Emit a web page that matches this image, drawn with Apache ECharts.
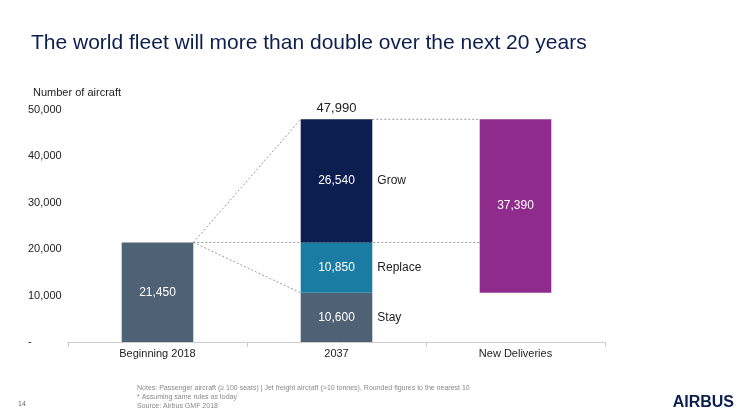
<!DOCTYPE html>
<html>
<head>
<meta charset="utf-8">
<script src="https://cdn.jsdelivr.net/npm/echarts@6/dist/echarts.min.js"></script>
<style>
  html, body { margin: 0; padding: 0; background: #fff; }
  #chart { width: 750px; height: 420px; }
</style>
</head>
<body>
<div id="chart"></div>
<script>
// chart values
const categories = ['Beginning 2018', '2037', 'New Deliveries'];
const fleet2018 = [21450, '-', '-'];
const stay = ['-', 10600, '-'];
const replace = ['-', 10850, '-'];
const grow = ['-', 26540, '-'];
const deliveriesBase = ['-', '-', 10600];
const deliveries = ['-', '-', 37390];
const total2037 = 47990;
const yTicks = [0, 10000, 20000, 30000, 40000, 50000];

const font = 'Liberation Sans, Arial, sans-serif';
const fmt = v => v.toLocaleString('en-US');

var myChart = echarts.init(document.getElementById('chart'));

function barSeries(name, data, color, showLabel) {
  return {
    name: name,
    type: 'bar',
    stack: 'a',
    data: data,
    barWidth: '40%',
    z: 3,
    itemStyle: { color: color },
    label: {
      show: showLabel,
      position: 'inside',
      color: '#fff',
      fontSize: 12,
      fontFamily: font,
      formatter: p => fmt(p.value)
    }
  };
}

// dotted connector lines between the bars
function connectors(params, api) {
  const half = api.size([1, 0])[0] * 0.2;
  const b1 = api.coord([0, fleet2018[0]]);
  const s = stay[1], r = replace[1];
  const x1 = b1[0] + half;
  const x2 = api.coord([1, 0])[0] - half;
  const x2r = api.coord([1, 0])[0] + half;
  const x3 = api.coord([2, 0])[0] - half;
  const yTop = api.coord([1, total2037])[1];
  const yMid = api.coord([1, s + r])[1];
  const yLow = api.coord([1, s])[1];
  const style = { stroke: '#999', lineWidth: 1, lineDash: [2, 2] };
  const seg = (ax, ay, bx, by) => ({ type: 'line', shape: { x1: ax, y1: ay, x2: bx, y2: by }, style: style });
  return {
    type: 'group',
    children: [
      seg(x1, b1[1], x2, yTop),
      seg(x1, b1[1], x3, yMid),
      seg(x1, b1[1], x2, yLow),
      seg(x2r, yTop, x3, yTop)
    ]
  };
}

// side labels and total for the 2037 bar
function sideLabels(params, api) {
  const half = api.size([1, 0])[0] * 0.2;
  const cx = api.coord([1, 0])[0];
  const s = stay[1], r = replace[1], g = grow[1];
  const txt = (x, v, text, align, size) => ({
    type: 'text',
    x: x, y: api.coord([1, v])[1],
    style: { text: text, fill: '#222', fontSize: size, fontFamily: font, align: align, verticalAlign: 'middle' }
  });
  return {
    type: 'group',
    children: [
      txt(cx + half + 5, s / 2, 'Stay', 'left', 12),
      txt(cx + half + 5, s + r / 2, 'Replace', 'left', 12),
      txt(cx + half + 5, s + r + g / 2, 'Grow', 'left', 12),
      { type: 'text', x: cx, y: api.coord([1, total2037])[1] - 4,
        style: { text: fmt(total2037), fill: '#222', fontSize: 13, fontFamily: font, align: 'center', verticalAlign: 'bottom' } }
    ]
  };
}

myChart.setOption({
  animation: false,
  title: [
    { text: 'The world fleet will more than double over the next 20 years', left: 26, top: 28,
      textStyle: { fontSize: 21, fontWeight: 'normal', color: '#0c1e4e', fontFamily: font } },
    { text: 'Number of aircraft', left: 28, top: 82,
      textStyle: { fontSize: 11, fontWeight: 'normal', color: '#222', fontFamily: font } }
  ],
  graphic: [
    { type: 'text', left: 137, top: 384, style: { text: 'Notes: Passenger aircraft (\u2265 100 seats) | Jet freight aircraft (>10 tonnes), Rounded figures to the nearest 10\n* Assuming same rules as today\nSource: Airbus GMF 2018', fill: '#888', fontSize: 7, lineHeight: 9, fontFamily: font } },
    { type: 'text', left: 18, top: 401, style: { text: '14', fill: '#666', fontSize: 7, fontFamily: font } },
    { type: 'text', right: 16, top: 395, style: { text: 'AIRBUS', fill: '#0c1e4e', fontSize: 16, fontWeight: 'bold', fontFamily: font } }
  ],
  grid: { left: 68, right: 145, top: 110, bottom: 78 },
  xAxis: {
    type: 'category',
    data: categories,
    axisLine: { lineStyle: { color: '#ccc' } },
    axisTick: { show: true, lineStyle: { color: '#ccc' } },
    axisLabel: { color: '#222', fontSize: 11, fontFamily: font, margin: 6 }
  },
  yAxis: {
    type: 'value',
    min: yTicks[0],
    max: yTicks[yTicks.length - 1],
    interval: 10000,
    splitLine: { show: false },
    axisLine: { show: false },
    axisTick: { show: false },
    axisLabel: { color: '#222', fontSize: 11, fontFamily: font, margin: 40, align: 'left',
      formatter: v => v === 0 ? '-' : fmt(v) }
  },
  series: [
    { type: 'custom', data: [[1, 0]], z: 1, renderItem: connectors, silent: true },
    barSeries('Fleet 2018', fleet2018, '#4f6275', true),
    barSeries('Stay', stay, '#4f6275', true),
    barSeries('Replace', replace, '#1a7ca3', true),
    barSeries('Grow', grow, '#0c1d4f', true),
    Object.assign(barSeries('Base', deliveriesBase, 'transparent', false), { silent: true }),
    barSeries('New Deliveries', deliveries, '#8f2b8c', true),
    { type: 'custom', data: [[1, 0]], z: 5, renderItem: sideLabels, silent: true }
  ]
});
</script>
</body>
</html>
